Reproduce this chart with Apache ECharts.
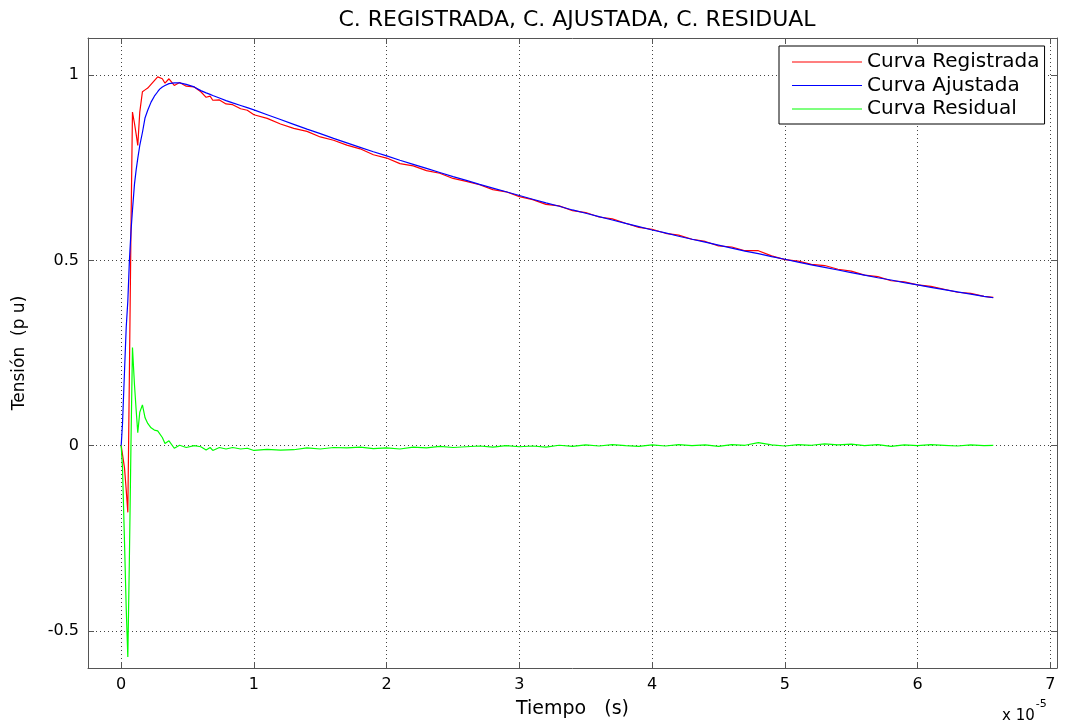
<!DOCTYPE html>
<html>
<head>
<meta charset="utf-8">
<script src="https://cdn.jsdelivr.net/npm/echarts@6/dist/echarts.min.js"></script>
<style>
  html, body { margin: 0; padding: 0; background: #fff; }
  #chart { width: 1073px; height: 727px; }
</style>
</head>
<body>
<div id="chart"></div>
<script>
// Time in units of 1e-5 s
const tiempo = [
  0, 0.01, 0.025, 0.038, 0.05, 0.062, 0.075, 0.085, 0.1, 0.113,
  0.125, 0.14, 0.16, 0.18, 0.2, 0.225, 0.25, 0.275, 0.29, 0.31,
  0.33, 0.36, 0.4, 0.44, 0.49, 0.55, 0.6, 0.64, 0.67, 0.69,
  0.74, 0.79, 0.84, 0.9, 0.95, 1.0,
  1.1, 1.2, 1.3, 1.4, 1.5, 1.6, 1.7, 1.8, 1.9, 2.0,
  2.1, 2.2, 2.3, 2.4, 2.5, 2.6, 2.7, 2.8, 2.9, 3.0,
  3.1, 3.2, 3.3, 3.4, 3.5, 3.6, 3.7, 3.8, 3.9, 4.0,
  4.1, 4.2, 4.3, 4.4, 4.5, 4.6, 4.7, 4.8, 4.9, 5.0,
  5.1, 5.2, 5.3, 5.4, 5.5, 5.6, 5.7, 5.8, 5.9, 6.0,
  6.1, 6.2, 6.3, 6.4, 6.5, 6.57
];

// Recorded voltage (p.u.)
const registrada = [
  0, 0, -0.06, -0.12, -0.18, 0.2, 0.62, 0.9, 0.87, 0.84,
  0.81, 0.9, 0.955, 0.96, 0.965, 0.975, 0.985, 0.995, 1.0, 0.99,
  0.978, 0.99, 0.972, 0.98, 0.97, 0.968, 0.955, 0.94, 0.943, 0.932,
  0.933, 0.922, 0.92, 0.909, 0.905, 0.893,
  0.883, 0.868, 0.856, 0.848, 0.833, 0.824, 0.811, 0.801, 0.785, 0.776,
  0.761, 0.755, 0.742, 0.735, 0.721, 0.713, 0.704, 0.691, 0.685, 0.672,
  0.664, 0.651, 0.647, 0.634, 0.629, 0.617, 0.612, 0.600, 0.589, 0.584,
  0.573, 0.568, 0.557, 0.551, 0.539, 0.536, 0.526, 0.526, 0.512, 0.502,
  0.498, 0.489, 0.486, 0.476, 0.471, 0.460, 0.456, 0.445, 0.442, 0.434,
  0.430, 0.422, 0.414, 0.411, 0.403, 0.400
];

// Fitted voltage (p.u.)
const ajustada = [
  0, 0.06, 0.2, 0.32, 0.39, 0.5, 0.585, 0.635, 0.705, 0.745,
  0.775, 0.81, 0.845, 0.885, 0.905, 0.927, 0.943, 0.955, 0.962, 0.968,
  0.972, 0.977, 0.979, 0.979, 0.975, 0.968, 0.958, 0.952, 0.948, 0.945,
  0.938, 0.931, 0.925, 0.918, 0.912, 0.906,
  0.893, 0.880, 0.867, 0.854, 0.842, 0.829, 0.817, 0.805, 0.793, 0.782,
  0.770, 0.759, 0.748, 0.737, 0.726, 0.716, 0.705, 0.695, 0.685, 0.675,
  0.665, 0.655, 0.646, 0.636, 0.627, 0.618, 0.609, 0.600, 0.591, 0.582,
  0.574, 0.565, 0.557, 0.549, 0.541, 0.533, 0.525, 0.518, 0.510, 0.503,
  0.495, 0.488, 0.481, 0.474, 0.467, 0.460, 0.453, 0.447, 0.440, 0.434,
  0.427, 0.421, 0.415, 0.409, 0.403, 0.399
];

// Residual (p.u.)
const residual = [
  0, -0.06, -0.26, -0.44, -0.57, -0.3, 0.035, 0.265, 0.165, 0.095,
  0.035, 0.09, 0.11, 0.075, 0.06, 0.048, 0.042, 0.04, 0.038, 0.022,
  0.006, 0.013, -0.007, 0.001, -0.005, 0, -0.003, -0.012, -0.005, -0.013,
  -0.005, -0.009, -0.005, -0.009, -0.007, -0.013,
  -0.010, -0.012, -0.011, -0.006, -0.009, -0.005, -0.006, -0.004, -0.008, -0.006,
  -0.009, -0.004, -0.006, -0.002, -0.005, -0.003, -0.001, -0.004, 0.000, -0.003,
  -0.001, -0.004, 0.001, -0.002, 0.002, -0.001, 0.003, 0.000, -0.002, 0.002,
  -0.001, 0.003, 0.000, 0.002, -0.002, 0.003, 0.001, 0.008, 0.002, -0.001,
  0.003, 0.001, 0.005, 0.002, 0.004, 0.000, 0.003, -0.002, 0.002, 0.000,
  0.003, 0.001, -0.001, 0.002, 0.000, 0.001
];

const xTicks = [0, 1, 2, 3, 4, 5, 6, 7];
const yTicks = [-0.5, 0, 0.5, 1];

const FONT = 'DejaVu Sans';
const pairs = (ys) => tiempo.map((t, i) => [t, ys[i]]);

const boxLine = { show: true, onZero: false, lineStyle: { color: '#555', width: 1 } };
const dotted = { show: true, lineStyle: { color: '#444', width: 1, type: [1, 3] } };
const innerTick = (vals) => ({ show: true, inside: true, length: 6, customValues: vals, lineStyle: { color: '#555' } });

const chart = echarts.init(document.getElementById('chart'), null, { renderer: 'canvas' });
chart.setOption({
  animation: false,
  backgroundColor: '#fff',
  title: {
    text: 'C. REGISTRADA, C. AJUSTADA, C. RESIDUAL',
    left: 572, top: 4, textAlign: 'center',
    textStyle: { fontFamily: FONT, fontSize: 22, fontWeight: 'normal', color: '#000' }
  },
  grid: { left: 88, right: 16, top: 38, bottom: 59, containLabel: false, outerBoundsMode: 'none' },
  legend: {
    left: 779, top: 46, orient: 'vertical',
    backgroundColor: '#fff', borderColor: '#000', borderWidth: 1,
    padding: [6, 5, 5, 13], itemGap: 3.5,
    itemWidth: 70, itemHeight: 1, icon: 'rect',
    textStyle: { fontFamily: FONT, fontSize: 20, lineHeight: 20, color: '#000' },
    data: ['Curva Registrada', 'Curva Ajustada', 'Curva Residual']
  },
  xAxis: [
    {
      type: 'value', min: -0.25, max: 7.05, position: 'bottom',
      name: 'Tiempo   (s)', nameLocation: 'middle', nameGap: 32,
      nameTextStyle: { fontFamily: FONT, fontSize: 19, color: '#000' },
      axisLine: boxLine,
      axisTick: innerTick(xTicks),
      axisLabel: { customValues: xTicks, margin: 9, fontFamily: FONT, fontSize: 16, color: '#000' },
      splitLine: dotted
    },
    {
      type: 'value', min: -0.25, max: 7.05, position: 'top',
      axisLine: boxLine,
      axisTick: innerTick(xTicks),
      axisLabel: { show: false },
      splitLine: { show: false }
    }
  ],
  yAxis: [
    {
      type: 'value', min: -0.6, max: 1.1, position: 'left',
      name: 'Tensión  (p u)', nameLocation: 'middle', nameGap: 60, nameRotate: 90,
      nameTextStyle: { fontFamily: FONT, fontSize: 17, color: '#000' },
      axisLine: boxLine,
      axisTick: innerTick(yTicks),
      axisLabel: { customValues: yTicks, margin: 9, fontFamily: FONT, fontSize: 16, color: '#000',
                   formatter: (v) => String(v) },
      splitLine: dotted
    },
    {
      type: 'value', min: -0.6, max: 1.1, position: 'right',
      axisLine: boxLine,
      axisTick: innerTick(yTicks),
      axisLabel: { show: false },
      splitLine: { show: false }
    }
  ],
  graphic: [
    {
      type: 'text', left: 1002, top: 699,
      style: {
        text: '{a|x 10}{b|-5}',
        rich: {
          a: { fontFamily: FONT, fontSize: 15, color: '#000', padding: [10, 0, 0, 0] },
          b: { fontFamily: FONT, fontSize: 11, color: '#000', verticalAlign: 'top', padding: [0, 0, 6, 1] }
        }
      }
    }
  ],
  series: [
    {
      name: 'Curva Registrada', type: 'line', symbol: 'none',
      data: pairs(registrada), color: '#ff0000', lineStyle: { width: 1.2, color: '#ff0000' }
    },
    {
      name: 'Curva Ajustada', type: 'line', symbol: 'none',
      data: pairs(ajustada), color: '#0000ff', lineStyle: { width: 1.2, color: '#0000ff' }
    },
    {
      name: 'Curva Residual', type: 'line', symbol: 'none',
      data: pairs(residual), color: '#00ff00', lineStyle: { width: 1.2, color: '#00ff00' }
    }
  ]
});
</script>
</body>
</html>
